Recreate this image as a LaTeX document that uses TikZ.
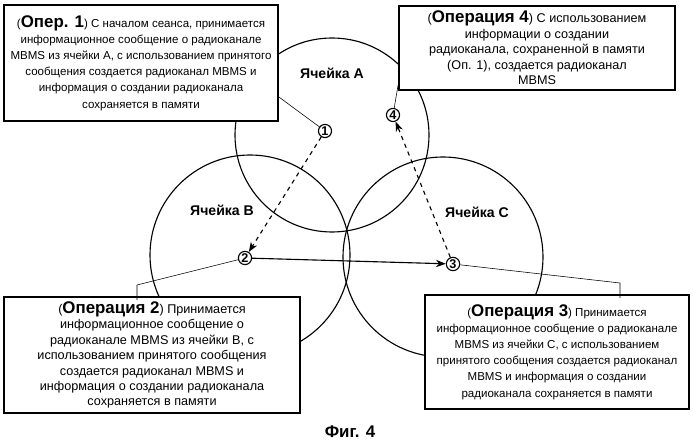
\documentclass[tikz,border=0pt]{standalone}
\usepackage{fontspec}
\setmainfont{Liberation Sans}
\usetikzlibrary{arrows.meta}

\tikzset{
  opbox/.style={draw, line width=1.2pt, align=center, font=\small, inner sep=3pt, fill=white},
  tight/.style={font=\fontsize{8.2}{11.5}\selectfont},
  cell/.style={draw, thick},
  num/.style={draw, circle, thick, inner sep=0.5pt, font=\bfseries\small, fill=white},
  lead/.style={thin},
}

\begin{document}
\begin{tikzpicture}[x=0.025cm, y=-0.025cm]
\useasboundingbox (0,0) rectangle (699,444);

% Three cells
\draw[cell] (332,135) circle (97);
\draw[cell] (250,255) circle (100);
\draw[cell] (443,257) circle (100);
\node[font=\bfseries] (cellA) at (332,73) {Ячейка A};
\node[font=\bfseries] (cellB) at (222,210) {Ячейка B};
\node[font=\bfseries] (cellC) at (477,212) {Ячейка C};

% Operation boxes
\node[opbox, tight, minimum width=6.85cm, minimum height=2.9cm] (op1) at (141,63)
  {(\textbf{\large Опер. 1}) С началом сеанса, принимается\\ информационное сообщение о радиоканале\\ MBMS из ячейки A, с использованием принятого\\ сообщения создается радиоканал MBMS и\\ информация о создании радиоканала\\ сохраняется в памяти};
\node[opbox, minimum width=6.9cm, minimum height=2.1cm] (op4) at (537,48)
  {(\textbf{\large Операция 4}) С использованием\\ информации о создании\\ радиоканала, сохраненной в памяти\\ (Оп. 1), создается радиоканал\\ MBMS};
\node[opbox, minimum width=7.4cm, minimum height=2.75cm] (op2) at (152,355)
  {(\textbf{\large Операция 2}) Принимается\\ информационное сообщение о\\ радиоканале MBMS из ячейки B, с\\ использованием принятого сообщения\\ создается радиоканал MBMS и\\ информация о создании радиоканала\\ сохраняется в памяти};
\node[opbox, tight, minimum width=6.6cm, minimum height=2.85cm] (op3) at (557,352)
  {(\textbf{\large Операция 3}) Принимается\\ информационное сообщение о радиоканале\\ MBMS из ячейки C, с использованием\\ принятого сообщения создается радиоканал\\ MBMS и информация о создании\\ радиоканала сохраняется в памяти};

% Steps
\node[num] (n1) at (325,131) {1};
\node[num] (n4) at (393,115) {4};
\node[num] (n2) at (245,258) {2};
\node[num] (n3) at (453,264) {3};

% Leaders
\draw[lead] (op1.east |- 0,97) -- (n1);
\draw[lead] (op4.west |- 0,85) -- (n4);
\draw[lead] (n2) -- (137,285) -- (137,300);
\draw[lead] (n3) -- (620,283) -- (620,298);

% Arrows
\draw[thick, dashed, -{Stealth[length=7pt]}] (n1) -- (n2);
\draw[thick, -{Stealth[length=7pt]}] (n2) -- (n3);
\draw[thick, dashed, -{Stealth[length=7pt]}] (n3) -- (n4);

\node[font=\bfseries\large] (fig) at (350,432) {Фиг. 4};
\end{tikzpicture}
\end{document}
